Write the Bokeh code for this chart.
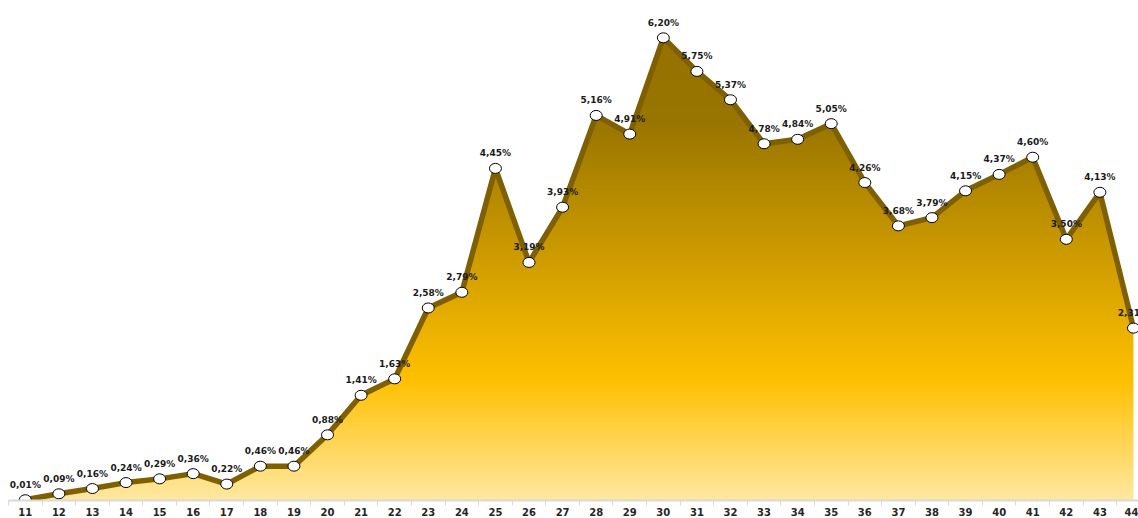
import numpy as np
from bokeh.plotting import figure
from bokeh.models import FixedTicker, ColumnDataSource, Range1d
from bokeh.embed import file_html
from bokeh.resources import INLINE
from bokeh.core.properties import value

# ---- data ----
weeks = list(range(11, 45))
shares = [0.01, 0.09, 0.16, 0.24, 0.29, 0.36, 0.22, 0.46, 0.46, 0.88,
          1.41, 1.63, 2.58, 2.79, 4.45, 3.19, 3.93, 5.16, 4.91, 6.20,
          5.75, 5.37, 4.78, 4.84, 5.05, 4.26, 3.68, 3.79, 4.15, 4.37,
          4.60, 3.50, 4.13, 2.31]
labels = [f"{v:.2f}".replace(".", ",") + "%" for v in shares]
tick_labels = [str(w) for w in weeks]

# ---- gradient fill (top dark gold -> gold -> light yellow) ----
stops_t = [0.0, 0.18, 0.74, 1.0]
stops_rgb = [(0x95, 0x72, 0x00), (0x98, 0x74, 0x00), (0xFF, 0xC0, 0x00), (0xFF, 0xE8, 0xA2)]
N = 400
t = 1.0 - (np.arange(N) + 0.5) / N  # row 0 is bottom
img = np.empty((N, 2), dtype=np.uint32)
view = img.view(dtype=np.uint8).reshape((N, 2, 4))
for c in range(3):
    ch = np.interp(t, stops_t, [s[c] for s in stops_rgb])
    view[:, :, c] = np.round(ch)[:, None].astype(np.uint8)
view[:, :, 3] = 255

y_top = 6.70
p = figure(width=1138, height=518,
           x_range=Range1d(10.5, 44.15), y_range=Range1d(0, y_top),
           output_backend="svg", toolbar_location=None,
           min_border_left=8, min_border_right=0, min_border_top=0, min_border_bottom=0,
           y_axis_location=None, outline_line_color=None,
           background_fill_color="white", border_fill_color="white")
p.grid.visible = False

src = ColumnDataSource(dict(x=weeks, y=shares, lab=labels))

# white mask above the curve, padded sideways so the gradient's edges stay hidden
mask_x = [weeks[0] - 1] + weeks + [weeks[-1] + 1]
mask_y = [shares[0]] + shares + [shares[-1]]
mask_src = ColumnDataSource(dict(x=mask_x, y=mask_y, top=[y_top + 1] * len(mask_x)))

p.image_rgba(image=[img], x=weeks[0], y=0, dw=weeks[-1] - weeks[0], dh=max(shares))
p.varea(x="x", y1="y", y2="top", source=mask_src, fill_color="white", fill_alpha=1.0)
p.line("x", "y", source=src, line_width=5.5, line_color="#7F6000", line_join="round")
p.ellipse(x="x", y="y", width=12, height=10, width_units="screen", height_units="screen",
          source=src, fill_color="white", line_color="black", line_width=1)
p.text(x="x", y="y", text="lab", source=src, text_font=value("DejaVu Sans"),
       text_font_style="bold", text_font_size="9px", text_align="center",
       text_baseline="bottom", y_offset=-10, text_color="#1a1a1a")

ax = p.xaxis[0]
ax.ticker = FixedTicker(ticks=weeks, minor_ticks=[w - 0.5 for w in weeks] + [weeks[-1] + 0.5])
ax.major_label_overrides = {w: s for w, s in zip(weeks, tick_labels)}
ax.major_tick_out = 0
ax.major_tick_in = 0
ax.minor_tick_out = 5
ax.minor_tick_in = 0
ax.minor_tick_line_color = "#D9D9D9"
ax.axis_line_color = "#D9D9D9"
ax.axis_line_width = 2
ax.major_label_standoff = 2
ax.major_label_text_font = "DejaVu Sans"
ax.major_label_text_font_style = "bold"
ax.major_label_text_font_size = "10px"
ax.major_label_text_color = "#262626"

open("out.html", "w").write(file_html(p, INLINE))
